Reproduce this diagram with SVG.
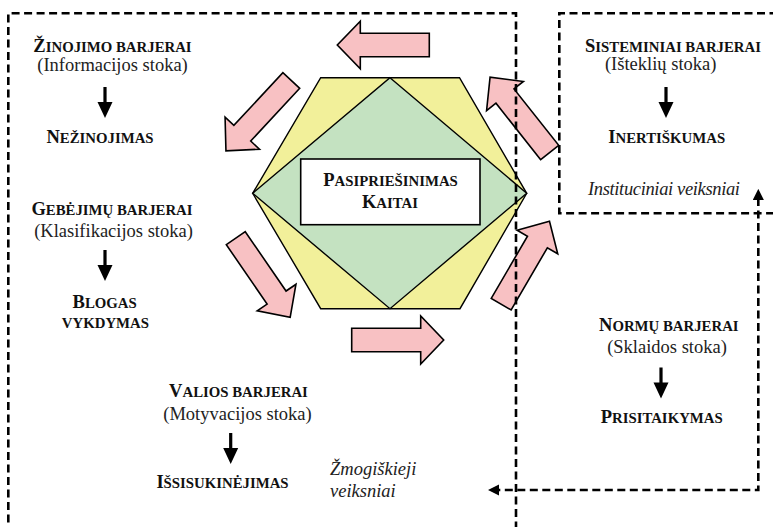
<svg xmlns="http://www.w3.org/2000/svg" width="773" height="527" viewBox="0 0 773 527">
<defs>
<style>
text{font-family:"Liberation Serif","Times New Roman",serif;fill:#111;}
.t{font-weight:bold;font-size:18.5px;text-anchor:middle;}
.s{font-size:14.8px;}
.r{font-size:18.5px;text-anchor:middle;fill:#222;}
.i{font-size:18.5px;font-style:italic;fill:#222;}
.pk{fill:#F8C1C3;stroke:#000;stroke-width:1.6;stroke-linejoin:miter;}
.dash{fill:none;stroke:#000;stroke-width:2.6;stroke-dasharray:8 4.5;}
.blk{fill:#000;stroke:none;}
</style>
<marker id="ah" viewBox="0 0 10 10" refX="2" refY="5" markerWidth="4.4" markerHeight="4.4" orient="auto-start-reverse" markerUnits="strokeWidth">
<path d="M0,0 L10,5 L0,10 Z" fill="#000"/>
</marker>
<path id="dn" d="M-1.6,0 H1.6 V15 H7.5 L0,31 L-7.5,15 H-1.6 Z"/>
</defs>
<rect width="773" height="527" fill="#fff"/>

<g id="hexagon">
<polygon points="320.7,77.7 459.5,77.7 526.7,193.3 460,308.7 320.7,308.7 252.7,193.3" fill="#F2F09A" stroke="#000" stroke-width="1.4" stroke-linejoin="miter"/>
<polygon points="390,77.7 526.7,193.3 390,308.7 252.7,193.3" fill="#C4E2C1" stroke="#000" stroke-width="1.4"/>
</g>

<g id="center">
<rect x="300.7" y="159" width="179.3" height="65.7" fill="#fff" stroke="#000" stroke-width="1.6"/>
<text class="t" x="390.5" y="186">P<tspan class="s">ASIPRIEŠINIMAS</tspan></text>
<text class="t" x="390" y="207.5">K<tspan class="s">AITAI</tspan></text>
</g>

<g id="cycle-arrows">
<path class="pk" transform="translate(429.3,45) rotate(180)" d="M0,-11.7 H69 V-23.8 L92,0 L69,23.8 V11.7 H0 Z"/>
<path class="pk" transform="translate(291.3,80.5) rotate(132.9)" d="M0,-11.5 H72 V-23.5 L96,0 L72,23.5 V11.5 H0 Z"/>
<path class="pk" transform="translate(235.8,238.2) rotate(55.5)" d="M0,-11.5 H72 V-23.5 L96,0 L72,23.5 V11.5 H0 Z"/>
<path class="pk" transform="translate(351.7,340)" d="M0,-11.7 H69 V-24 L92,0 L69,24 V11.7 H0 Z"/>
<path class="pk" transform="translate(501.2,304.2) rotate(-59.8)" d="M0,-11.5 H72 V-23.5 L96,0 L72,23.5 V11.5 H0 Z"/>
<path class="pk" transform="translate(549.7,152.5) rotate(231.6)" d="M0,-11.5 H72 V-23.5 L96,0 L72,23.5 V11.5 H0 Z"/>
</g>

<g id="boxes">
<path class="dash" d="M8.3,535 V13.3 H516 V535"/>
<path class="dash" d="M790,13.3 H559.3 V213.3 H790"/>
</g>

<g id="zinojimo">
<text class="t" x="112.5" y="52">Ž<tspan class="s">INOJIMO BARJERAI</tspan></text>
<text class="r" x="112.5" y="70.5">(Informacijos stoka)</text>
<text class="t" x="100" y="143">N<tspan class="s">EŽINOJIMAS</tspan></text>
</g>

<g id="gebejimu">
<text class="t" x="112" y="215">G<tspan class="s">EBĖJIMŲ BARJERAI</tspan></text>
<text class="r" x="113.5" y="236.5">(Klasifikacijos stoka)</text>
<text class="t" x="104.7" y="308">B<tspan class="s">LOGAS</tspan></text>
<text class="t" x="105.4" y="328"><tspan class="s">VYKDYMAS</tspan></text>
</g>

<g id="valios">
<text class="t" x="238.5" y="396.5">V<tspan class="s">ALIOS BARJERAI</tspan></text>
<text class="r" x="237.5" y="419.5">(Motyvacijos stoka)</text>
<text class="t" x="222.5" y="488">I<tspan class="s">ŠSISUKINĖJIMAS</tspan></text>
</g>

<g id="zmogiskieji">
<text class="i" x="330" y="475">Žmogiškieji</text>
<text class="i" x="330" y="497">veiksniai</text>
</g>

<g id="sisteminiai">
<text class="t" x="673" y="51.5">S<tspan class="s">ISTEMINIAI BARJERAI</tspan></text>
<text class="r" x="660.7" y="70">(Išteklių stoka)</text>
<text class="t" x="666.7" y="143">I<tspan class="s">NERTIŠKUMAS</tspan></text>
</g>

<g id="instituciniai">
<text class="i" x="588" y="195" textLength="152" lengthAdjust="spacing">Instituciniai  veiksniai</text>
</g>

<g id="normu">
<text class="t" x="668.8" y="331">N<tspan class="s">ORMŲ BARJERAI</tspan></text>
<text class="r" x="667" y="353">(Sklaidos stoka)</text>
<text class="t" x="661.7" y="423.3">P<tspan class="s">RISITAIKYMAS</tspan></text>
</g>

<g id="connectors">
<use href="#dn" class="blk" x="105" y="87"/>
<use href="#dn" class="blk" x="105" y="250"/>
<use href="#dn" class="blk" x="230.7" y="433"/>
<use href="#dn" class="blk" x="666" y="87"/>
<use href="#dn" class="blk" x="661" y="367.5"/>
<path class="dash" d="M758.3,198 V490 H497" marker-start="url(#ah)" marker-end="url(#ah)"/>
</g>
</svg>
